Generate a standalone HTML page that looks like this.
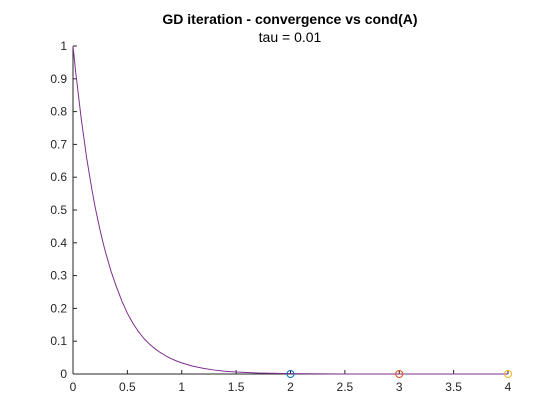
<!DOCTYPE html>
<html><head><meta charset="utf-8"><style>
body{margin:0;background:#fff;}
svg{display:block;font-family:"Liberation Sans",Arial,sans-serif;}
</style></head><body>
<svg id="chart" width="560" height="420" viewBox="0 0 560 420">
<rect width="560" height="420" fill="#fff"/>
<text x="290" y="24" text-anchor="middle" font-size="14" font-weight="bold" fill="#000">GD iteration - convergence vs cond(A)</text>
<text x="290" y="42" text-anchor="middle" font-size="14" fill="#000">tau = 0.01</text>
<g id="axes"></g>
<g id="series"></g>
</svg>
<script>
const xTicks=[0,0.5,1,1.5,2,2.5,3,3.5,4];
const xTickLabels=["0","0.5","1","1.5","2","2.5","3","3.5","4"];
const yTicks=[0,0.1,0.2,0.3,0.4,0.5,0.6,0.7,0.8,0.9,1];
const yTickLabels=["0","0.1","0.2","0.3","0.4","0.5","0.6","0.7","0.8","0.9","1"];
const curveX=[0,0.025,0.05,0.075,0.1,0.125,0.15,0.175,0.2,0.225,0.25,0.275,0.3,0.35,0.4,0.45,0.5,0.55,0.6,0.65,0.7,0.75,0.8,0.85,0.9,0.95,1,1.1,1.2,1.3,1.4,1.5,1.7,2,2.5,3,3.5,4];
const curveY=[1,0.92,0.85,0.78,0.72,0.66,0.61,0.56,0.515,0.475,0.437,0.402,0.37,0.313,0.265,0.222,0.185,0.155,0.13,0.109,0.092,0.078,0.066,0.056,0.047,0.04,0.034,0.024,0.017,0.012,0.0085,0.006,0.003,0.001,0,0,0,0];
const markerX=[2,3,4];
const markerY=[0,0,0];
const markerColors=["#0072BD","#D95319","#EDB120"];
const L=73,R=508,T=46,B=374;
const sx=v=>L+(v-0)/(4-0)*(R-L);
const sy=v=>B-(v-0)/(1-0)*(B-T);
const NS="http://www.w3.org/2000/svg";
const ax=document.getElementById('axes'),se=document.getElementById('series');
function mk(tag,attrs,parent){const e=document.createElementNS(NS,tag);for(const k in attrs)e.setAttribute(k,attrs[k]);parent.appendChild(e);return e;}
let e=mk('line',{x1:L,y1:B,x2:R,y2:B,stroke:'#262626','stroke-width':1},ax);


e=mk('line',{x1:L,y1:T,x2:L,y2:B,stroke:'#262626','stroke-width':1},ax);


xTicks.forEach((v,i)=>{
 const t=mk('line',{x1:sx(v),y1:B,x2:sx(v),y2:B-4,stroke:'#262626'},ax);
 
 
 const l=mk('text',{x:sx(v),y:B+17,'text-anchor':'middle','font-size':12,fill:'#262626'},ax);
 l.textContent=xTickLabels[i];
 
 
});
yTicks.forEach((v,i)=>{
 const t=mk('line',{x1:L,y1:sy(v),x2:L+4,y2:sy(v),stroke:'#262626'},ax);
 
 
 const l=mk('text',{x:L-6,y:sy(v)+4,'text-anchor':'end','font-size':12,fill:'#262626'},ax);
 l.textContent=yTickLabels[i];
 
 
});
const d=curveX.map((x,i)=>(i?'L':'M')+sx(x).toFixed(2)+','+sy(curveY[i]).toFixed(2)).join(' ');
e=mk('path',{d:d,fill:'none',stroke:'#7E2F8E','stroke-width':1,'stroke-linejoin':'round'},se);


markerX.forEach((x,i)=>{
 const c=mk('circle',{cx:sx(x),cy:sy(markerY[i]),r:3.5,fill:'none',stroke:markerColors[i],'stroke-width':1},se);
 
 
});
</script>
</body></html>
